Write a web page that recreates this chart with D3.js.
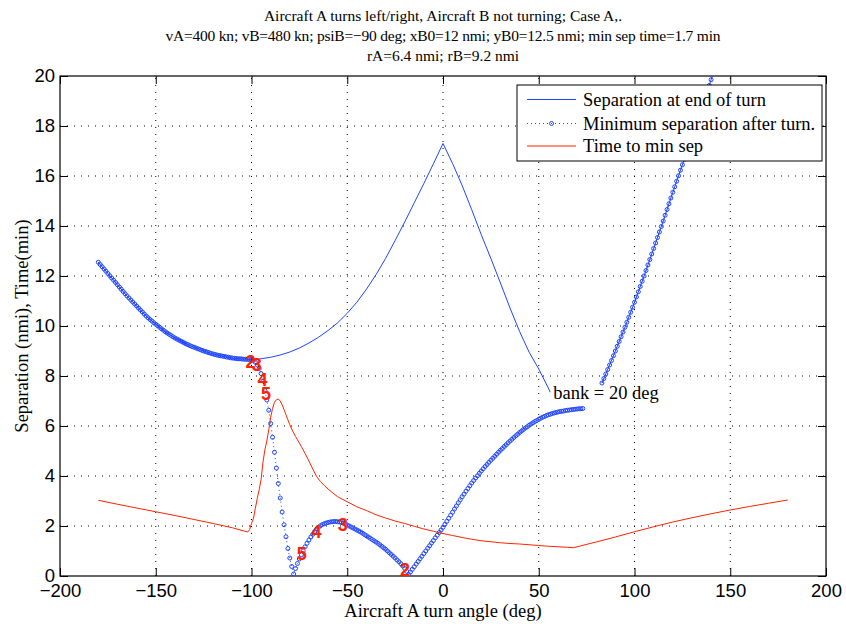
<!DOCTYPE html>
<html>
<head>
<meta charset="utf-8">
<script src="https://cdn.jsdelivr.net/npm/d3@7"></script>
<style>
body { margin: 0; background: #fff; }
svg { font-family: "Liberation Serif", "Times New Roman", serif; }
.grid line { stroke: #000; stroke-width: 1; stroke-dasharray: 1,6; }
.axis text { font-size: 18.5px; fill: #000; }
.axis line { stroke: #000; stroke-width: 1; }
</style>
</head>
<body>
<div id="chart"></div>
<script>

// ---- data ----
var titleLines = [
  "Aircraft A turns left/right, Aircraft B not turning; Case A,.",
  "vA=400 kn; vB=480 kn; psiB=\u221290 deg; xB0=12 nmi; yB0=12.5 nmi; min sep time=1.7 min",
  "rA=6.4 nmi; rB=9.2 nmi"
];
var xTicks = [-200, -150, -100, -50, 0, 50, 100, 150, 200];
var yTicks = [0, 2, 4, 6, 8, 10, 12, 14, 16, 18, 20];
var seriesNames = ["Separation at end of turn", "Minimum separation after turn.", "Time to min sep"];

// separation at end of turn (null = not computed)
var endSepAngle = [-180, -175, -170, -165, -160, -155, -150, -145, -140, -135, -130, -125, -120, -115, -110, -105, -100,
  -95, -90, -85, -80, -75, -70, -65, -60, -55, -50, -45, -40, -35, -30, -25, -20, -15, -10, -5, 0,
  5, 10, 15, 20, 25, 30, 35, 40, 45, 50, 55, 56, 70,
  83, 85, 90, 95, 100, 105, 110, 115, 120, 125, 130, 135, 140, 141];
var endSepValue = [12.55, 12.10, 11.65, 11.20, 10.80, 10.40, 10.07, 9.77, 9.52, 9.32, 9.15, 9.00, 8.88, 8.79, 8.72, 8.68, 8.66,
  8.69, 8.75, 8.84, 8.96, 9.12, 9.32, 9.55, 9.82, 10.13, 10.51, 10.95, 11.47, 12.05, 12.70, 13.42, 14.16, 14.93, 15.70, 16.49, 17.30,
  16.50, 15.62, 14.65, 13.65, 12.70, 11.72, 10.72, 9.78, 8.95, 8.28, 7.52, 7.35, null,
  7.72, 8.08, 9.00, 9.95, 10.95, 12.00, 13.10, 14.20, 15.35, 16.45, 17.55, 18.70, 19.85, 20.08];

// minimum separation after turn, one sample per degree
var minSepLeftFrom = -180;
var minSepLeft = [
  12.55, 12.46, 12.37, 12.28, 12.19, 12.10, 12.01, 11.92, 11.83, 11.74,
  11.65, 11.56, 11.47, 11.38, 11.29, 11.20, 11.12, 11.04, 10.96, 10.88,
  10.80, 10.72, 10.64, 10.56, 10.48, 10.40, 10.33, 10.26, 10.20, 10.13,
  10.07, 10.01, 9.95, 9.89, 9.83, 9.77, 9.72, 9.67, 9.62, 9.57,
  9.52, 9.48, 9.44, 9.40, 9.36, 9.32, 9.28, 9.25, 9.21, 9.18,
  9.15, 9.12, 9.09, 9.06, 9.03, 9.00, 8.98, 8.95, 8.93, 8.90,
  8.88, 8.86, 8.84, 8.82, 8.81, 8.79, 8.78, 8.76, 8.75, 8.73,
  8.72, 8.71, 8.70, 8.69, 8.69, 8.68, 8.67, 8.67, 8.66, 8.66,
  8.66,
  8.62, 8.55, 8.44, 8.30, 8.10, 7.80, 7.42, 7.04, 6.63, 6.10,
  5.55, 4.95, 4.32, 3.70, 3.12, 2.56, 2.05, 1.57, 1.10, 0.72,
  0.38, 0.08,
  0.30, 0.50, 0.68, 0.85, 1.01, 1.17, 1.31, 1.44, 1.56, 1.67,
  1.78, 1.88, 1.95, 2.01, 2.06, 2.09, 2.12, 2.14, 2.16, 2.17,
  2.18, 2.18, 2.17, 2.16, 2.14, 2.11, 2.08, 2.04, 2.00, 1.96,
  1.92, 1.88, 1.84, 1.80, 1.76, 1.71, 1.66, 1.61, 1.56, 1.51,
  1.46, 1.41, 1.36, 1.31, 1.25, 1.19, 1.13, 1.07, 1.00, 0.93,
  0.86, 0.79, 0.72, 0.64, 0.57, 0.49, 0.40, 0.30, 0.19, 0.06,
  0.16, 0.27, 0.37, 0.48, 0.58, 0.69, 0.79, 0.90, 1.00, 1.11,
  1.21, 1.32, 1.42, 1.53, 1.63, 1.74, 1.84,
  1.95, 2.07, 2.19, 2.31, 2.43, 2.55, 2.68, 2.80, 2.93, 3.05,
  3.17, 3.28, 3.39, 3.50, 3.61, 3.72, 3.82, 3.92, 4.01, 4.11,
  4.20, 4.29, 4.38, 4.46, 4.55, 4.63, 4.71, 4.79, 4.87, 4.95,
  5.03, 5.10, 5.18, 5.25, 5.33, 5.40, 5.47, 5.54, 5.61, 5.67,
  5.74, 5.80, 5.86, 5.92, 5.97, 6.03, 6.08, 6.13, 6.18, 6.22,
  6.27, 6.31, 6.35, 6.38, 6.42, 6.45, 6.47, 6.50, 6.52, 6.54,
  6.56, 6.58, 6.59, 6.60, 6.62, 6.63, 6.64, 6.65, 6.66, 6.67,
  6.68, 6.69, 6.69, 6.70
];
var minSepRightFrom = 83;
var minSepRight = [
  7.72, 7.90, 8.08, 8.26, 8.44, 8.62, 8.81, 9.00, 9.19, 9.38,
  9.57, 9.76, 9.95, 10.15, 10.35, 10.55, 10.75, 10.95, 11.16, 11.37,
  11.58, 11.79, 12.00, 12.22, 12.44, 12.66, 12.88, 13.10, 13.32, 13.54,
  13.76, 13.98, 14.20, 14.43, 14.66, 14.89, 15.12, 15.35, 15.57, 15.79,
  16.01, 16.23, 16.45, 16.67, 16.89, 17.11, 17.33, 17.55, 17.78, 18.01,
  18.24, 18.47, 18.70, 18.93, 19.16, 19.39, 19.62, 19.85, 20.08
];

// time to minimum separation (min)
var timeAngle = [-180, -170, -160, -150, -140, -130, -120, -110, -102, -101, -100, -99, -98, -97, -96, -95, -94, -93, -92, -91,
  -90, -89, -88, -87, -86, -85, -84, -83, -82, -81, -80, -79, -78, -77, -76, -75, -74, -72, -70, -68,
  -66, -64, -62, -60, -58, -55, -50, -45, -40, -35, -30, -25, -20, -15, -10, -5, 0, 5, 10, 15,
  20, 25, 30, 35, 40, 45, 50, 55, 60, 65, 68, 70, 80, 90, 100, 110, 120, 130, 140, 150,
  160, 170, 180];
var timeValue = [3.03, 2.87, 2.72, 2.57, 2.42, 2.26, 2.10, 1.93, 1.76, 1.85, 2.10, 2.30, 2.70, 3.10, 3.45, 3.85, 4.55, 5.05, 5.40, 5.85,
  6.35, 6.70, 6.95, 7.05, 7.08, 7.00, 6.85, 6.65, 6.45, 6.25, 6.05, 5.88, 5.72, 5.58, 5.45, 5.32, 5.18, 4.90, 4.60, 4.28,
  3.98, 3.78, 3.62, 3.48, 3.35, 3.17, 2.97, 2.77, 2.62, 2.45, 2.32, 2.20, 2.10, 1.99, 1.88, 1.79, 1.70, 1.62, 1.54, 1.47,
  1.41, 1.37, 1.33, 1.30, 1.28, 1.25, 1.22, 1.19, 1.17, 1.15, 1.13, 1.17, 1.36, 1.56, 1.77, 1.97, 2.16, 2.33, 2.49, 2.64,
  2.78, 2.91, 3.04];

// red digit annotations
var digitText = ["2", "3", "4", "5", "5", "4", "3", "2"];
var digitAngle = [-100.5, -97.3, -94.2, -92.4, -73.8, -66, -52.4, -19.8];
var digitValue = [8.57, 8.44, 7.84, 7.31, 0.91, 1.77, 2.04, 0.24];
var bankNote = "bank = 20 deg";

// ---- drawing ----
var w = 846, h = 624,
    margin = {top: 76, right: 20, bottom: 48, left: 60},
    blue = "#1f45ff", red = "#ff2200";

var svg = d3.select("#chart").append("svg")
    .attr("width", w)
    .attr("height", h);

var x = d3.scaleLinear().domain([-200, 200]).range([margin.left, w - margin.right]);
var y = d3.scaleLinear().domain([0, 20]).range([h - margin.bottom, margin.top]);

svg.append("clipPath").attr("id", "plotclip")
  .append("rect")
    .attr("x", x(-200)).attr("y", y(20))
    .attr("width", x(200) - x(-200)).attr("height", y(0) - y(20));

// grid
var grid = svg.append("g").attr("class", "grid");
grid.selectAll("line.gx").data(xTicks.slice(1, -1)).enter().append("line")
    .attr("x1", function(d) { return x(d); }).attr("x2", function(d) { return x(d); })
    .attr("y1", y(0)).attr("y2", y(20));
grid.selectAll("line.gy").data(yTicks.slice(1, -1)).enter().append("line")
    .attr("y1", function(d) { return y(d); }).attr("y2", function(d) { return y(d); })
    .attr("x1", x(-200)).attr("x2", x(200));

// axes, ticks inside like matlab
var fmt = d3.format("d");
svg.append("g").attr("class", "axis")
    .attr("transform", "translate(0," + y(0) + ")")
    .call(d3.axisBottom(x).tickValues(xTicks).tickFormat(fmt).tickSize(-8).tickPadding(8));
svg.append("g").attr("class", "axis")
    .attr("transform", "translate(0," + y(20) + ")")
    .call(d3.axisTop(x).tickValues(xTicks).tickFormat("").tickSize(-8));
svg.append("g").attr("class", "axis")
    .attr("transform", "translate(" + x(-200) + ",0)")
    .call(d3.axisLeft(y).tickValues(yTicks).tickFormat(fmt).tickSize(-8).tickPadding(5));
svg.append("g").attr("class", "axis")
    .attr("transform", "translate(" + x(200) + ",0)")
    .call(d3.axisRight(y).tickValues(yTicks).tickFormat("").tickSize(-8));
svg.selectAll(".axis .domain").remove();
svg.selectAll(".axis text").attr("font-family", null);

svg.append("rect")
    .attr("x", x(-200)).attr("y", y(20))
    .attr("width", x(200) - x(-200)).attr("height", y(0) - y(20))
    .attr("fill", "none").attr("stroke", "#000").attr("stroke-width", 1.2);

// series
var plot = svg.append("g").attr("clip-path", "url(#plotclip)");

var endSep = endSepAngle.map(function(a, i) { return {a: a, v: endSepValue[i]}; });
var toPts = function(vals, from) { return vals.map(function(v, i) { return {a: from + i, v: v}; }); };
var minSepL = toPts(minSepLeft, minSepLeftFrom),
    minSepR = toPts(minSepRight, minSepRightFrom);
var timeSep = timeAngle.map(function(a, i) { return {a: a, v: timeValue[i]}; });

var line = d3.line()
    .defined(function(d) { return d.v !== null; })
    .x(function(d) { return x(d.a); })
    .y(function(d) { return y(d.v); });

plot.append("path").datum(endSep)
    .attr("d", line).attr("fill", "none").attr("stroke", blue).attr("stroke-width", 1);

[minSepL, minSepR].forEach(function(branch) {
  plot.append("path").datum(branch)
      .attr("d", line).attr("fill", "none").attr("stroke", blue)
      .attr("stroke-width", 1).attr("stroke-dasharray", "1,3");
});

plot.selectAll("circle.ms").data(minSepL.concat(minSepR)).enter().append("circle")
    .attr("class", "ms")
    .attr("cx", function(d) { return x(d.a); })
    .attr("cy", function(d) { return y(d.v); })
    .attr("r", 2)
    .attr("fill", "none").attr("stroke", blue).attr("stroke-width", 1);

plot.append("path").datum(timeSep)
    .attr("d", line).attr("fill", "none").attr("stroke", red).attr("stroke-width", 1);

// annotations
svg.selectAll("text.digit").data(digitText).enter().append("text")
    .attr("class", "digit")
    .attr("x", function(d, i) { return x(digitAngle[i]); })
    .attr("y", function(d, i) { return y(digitValue[i]); })
    .attr("dy", "0.36em")
    .attr("text-anchor", "middle")
    .style("font-family", "'Liberation Sans', Arial, sans-serif")
    .style("font-weight", "bold")
    .style("font-size", "18px")
    .style("fill", red)
    .text(function(d) { return d; });

var lastEnd = endSep[endSepValue.indexOf(null) - 1];
svg.append("text")
    .attr("x", x(lastEnd.a) + 3)
    .attr("y", y(lastEnd.v))
    .attr("dy", "0.35em")
    .style("font-size", "18.5px")
    .text(bankNote);

// titles (second line is set wider in the original)
svg.selectAll("text.title").data(titleLines).enter().append("text")
    .attr("class", "title")
    .attr("x", (x(-200) + x(200)) / 2)
    .attr("y", function(d, i) { return 21 + i * 20; })
    .attr("text-anchor", "middle")
    .attr("textLength", function(d, i) { return i === 1 ? 555 : null; })
    .attr("lengthAdjust", "spacing")
    .style("font-size", "15.5px")
    .text(function(d) { return d; });

svg.append("text")
    .attr("x", (x(-200) + x(200)) / 2)
    .attr("y", 617)
    .attr("text-anchor", "middle")
    .style("font-size", "18.5px")
    .text("Aircraft A turn angle (deg)");

svg.append("text")
    .attr("transform", "translate(28," + ((y(0) + y(20)) / 2) + ") rotate(-90)")
    .attr("text-anchor", "middle")
    .style("font-size", "18.5px")
    .text("Separation (nmi), Time(min)");

// legend
var lg = svg.append("g").attr("transform", "translate(517,85)");
lg.append("rect").attr("width", 305).attr("height", 76)
    .attr("fill", "#fff").attr("stroke", "#000").attr("stroke-width", 1);
var rows = lg.selectAll("g.row").data(seriesNames).enter().append("g")
    .attr("class", "row")
    .attr("transform", function(d, i) { return "translate(0," + [14.5, 38.5, 61][i] + ")"; });
rows.append("line")
    .attr("x1", 10).attr("x2", 59)
    .attr("stroke", function(d, i) { return i === 2 ? red : blue; })
    .attr("stroke-width", 1)
    .attr("stroke-dasharray", function(d, i) { return i === 1 ? "1,3" : null; });
rows.filter(function(d, i) { return i === 1; }).append("circle")
    .attr("cx", 34.5).attr("r", 2)
    .attr("fill", "none").attr("stroke", blue);
rows.append("text")
    .attr("x", 66).attr("dy", "0.35em")
    .style("font-size", "18.5px")
    .text(function(d) { return d; });

</script>
</body>
</html>
